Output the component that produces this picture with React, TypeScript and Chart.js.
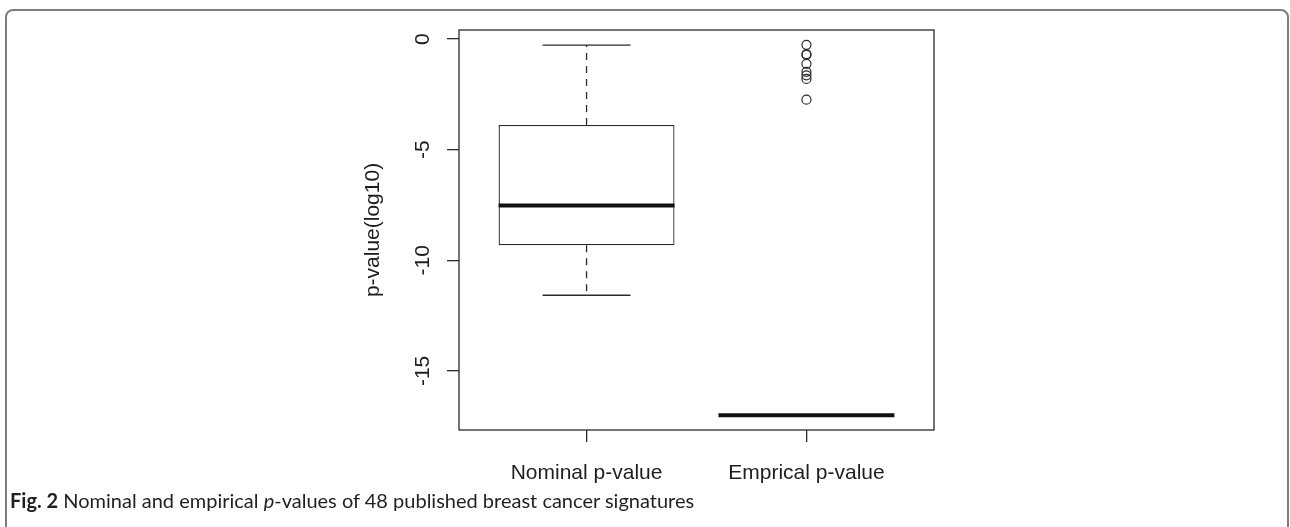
import React, { useEffect, useRef } from "react";
import { Chart, registerables } from "chart.js";

Chart.register(...registerables);

// Box-plot summaries (log10 p-values) for the two groups
const categories = ["Nominal p-value", "Emprical p-value"];
const lowerWhisker = [-11.58, -17];
const lowerQuartile = [-9.32, -17];
const medians = [-7.52, -17];
const upperQuartile = [-3.88, -17];
const upperWhisker = [-0.27, -17];
const nominalOutliers: number[] = [];
const empiricalOutliers = [-0.26, -0.68, -0.72, -1.12, -1.48, -1.64, -1.8, -2.74];
const outliers = [nominalOutliers, empiricalOutliers];
const yTicks = [-15, -10, -5, 0];
const yTitle = "p-value(log10)";

const INK = "#2b2b2b";
const TEXT = "#1e1e1e";
const FONT = "'Liberation Sans', Arial, Helvetica, sans-serif";

// Plot frame around the chart area (R-style box)
const plotFrame = {
  id: "plotFrame",
  afterDatasetsDraw(chart: any) {
    const { ctx, chartArea } = chart;
    const { left, top, right, bottom } = chartArea;
    ctx.save();
    ctx.strokeStyle = INK;
    ctx.lineWidth = 1.3;
    ctx.strokeRect(left, top, right - left, bottom - top);
    ctx.restore();
  },
};

function buildDatasets() {
  const datasets: any[] = [];
  // boxes from lower to upper quartile
  datasets.push({
    type: "bar",
    data: categories.map((_, i) => ({ x: i + 1, y: [lowerQuartile[i], upperQuartile[i]] })),
    backgroundColor: "#ffffff",
    borderColor: INK,
    borderWidth: 1.3,
    borderSkipped: false,
    categoryPercentage: 1,
    barPercentage: 0.8,
    order: 5,
  });
  categories.forEach((_, i) => {
    const c = i + 1;
    // dashed whisker stems
    datasets.push({
      type: "line",
      data: [{ x: c, y: upperQuartile[i] }, { x: c, y: upperWhisker[i] }],
      borderColor: INK,
      borderWidth: 1.3,
      borderDash: [7, 6],
      pointRadius: 0,
      order: 4,
    });
    datasets.push({
      type: "line",
      data: [{ x: c, y: lowerQuartile[i] }, { x: c, y: lowerWhisker[i] }],
      borderColor: INK,
      borderWidth: 1.3,
      borderDash: [7, 6],
      pointRadius: 0,
      order: 4,
    });
    // whisker caps
    [upperWhisker[i], lowerWhisker[i]].forEach((v) => {
      datasets.push({
        type: "line",
        data: [{ x: c - 0.2, y: v }, { x: c + 0.2, y: v }],
        borderColor: INK,
        borderWidth: 1.3,
        pointRadius: 0,
        order: 3,
      });
    });
    // median bar
    datasets.push({
      type: "line",
      data: [{ x: c - 0.4, y: medians[i] }, { x: c + 0.4, y: medians[i] }],
      borderColor: "#111111",
      borderWidth: 4,
      borderCapStyle: "butt",
      pointRadius: 0,
      order: 1,
    });
    // outliers as hollow circles
    if (outliers[i].length) {
      datasets.push({
        type: "line",
        showLine: false,
        data: outliers[i].map((v) => ({ x: c, y: v })),
        pointRadius: 4.5,
        pointHoverRadius: 4.5,
        pointBorderWidth: 1.2,
        pointBackgroundColor: "rgba(0,0,0,0)",
        pointBorderColor: INK,
        order: 0,
      });
    }
  });
  return datasets;
}

export default function App() {
  const canvasRef = useRef<HTMLCanvasElement | null>(null);

  useEffect(() => {
    const canvas = canvasRef.current;
    if (!canvas) return;

    const allValues = [
      ...lowerWhisker,
      ...upperWhisker,
      ...outliers.flat(),
    ];
    const lo = Math.min(...allValues);
    const hi = Math.max(...allValues);
    const yPad = 0.04 * (hi - lo);
    const xLo = 0.5;
    const xHi = categories.length + 0.5;
    const xPad = 0.04 * (xHi - xLo);

    const chart = new Chart(canvas, {
      type: "bar",
      data: { datasets: buildDatasets() },
      options: {
        animation: false,
        responsive: false,
        devicePixelRatio: 1,
        events: [],
        layout: { padding: { left: 359, right: 356, top: 30, bottom: 37 } },
        plugins: {
          legend: { display: false },
          tooltip: { enabled: false },
        },
        scales: {
          x: {
            type: "linear",
            offset: false,
            min: xLo - xPad,
            max: xHi + xPad,
            afterBuildTicks: (scale: any) => {
              scale.ticks = categories.map((_, i) => ({ value: i + 1 }));
            },
            afterFit: (scale: any) => {
              scale.height = 60;
            },
            grid: {
              offset: false,
              drawOnChartArea: false,
              drawTicks: true,
              tickLength: 12,
              tickColor: INK,
              lineWidth: 1.3,
            },
            border: { display: false },
            ticks: {
              autoSkip: false,
              maxRotation: 0,
              padding: 19,
              color: TEXT,
              font: { family: FONT, size: 21 },
              callback: (value: any) => categories[Math.round(Number(value)) - 1] ?? "",
            },
          },
          y: {
            type: "linear",
            min: lo - yPad,
            max: hi + yPad,
            afterBuildTicks: (scale: any) => {
              scale.ticks = yTicks.map((v) => ({ value: v }));
            },
            afterFit: (scale: any) => {
              scale.width = 100;
            },
            grid: {
              drawOnChartArea: false,
              drawTicks: true,
              tickLength: 12,
              tickColor: INK,
              lineWidth: 1.3,
            },
            border: { display: false },
            ticks: {
              autoSkip: false,
              minRotation: 90,
              maxRotation: 90,
              crossAlign: "center",
              padding: 9,
              color: TEXT,
              font: { family: FONT, size: 21 },
              callback: (value: any) => String(value),
            },
            title: {
              display: true,
              text: yTitle,
              color: TEXT,
              padding: { top: 2, bottom: 0 },
              font: { family: FONT, size: 21 },
            },
          },
        },
      } as any,
      plugins: [plotFrame],
    });

    return () => chart.destroy();
  }, []);

  return (
    <div
      style={{
        position: "fixed",
        left: 0,
        top: 0,
        width: 1290,
        height: 527,
        background: "#ffffff",
        overflow: "hidden",
      }}
    >
      <canvas
        ref={canvasRef}
        width={1290}
        height={527}
        style={{ position: "absolute", left: 0, top: 0, width: 1290, height: 527 }}
      />
      <div
        style={{
          position: "absolute",
          left: 5,
          top: 9,
          width: 1280,
          height: 600,
          border: "2px solid #7d7d7d",
          borderRadius: 8,
          pointerEvents: "none",
        }}
      />
      <div
        style={{
          position: "absolute",
          left: 10,
          top: 489,
          fontFamily: "Lato, 'Open Sans', sans-serif",
          fontSize: 20,
          lineHeight: "22px",
          color: "#231f20",
          whiteSpace: "nowrap",
        }}
      >
        <b>Fig. 2</b> Nominal and empirical <i>p</i>-values of 48 published breast cancer signatures
      </div>
    </div>
  );
}
